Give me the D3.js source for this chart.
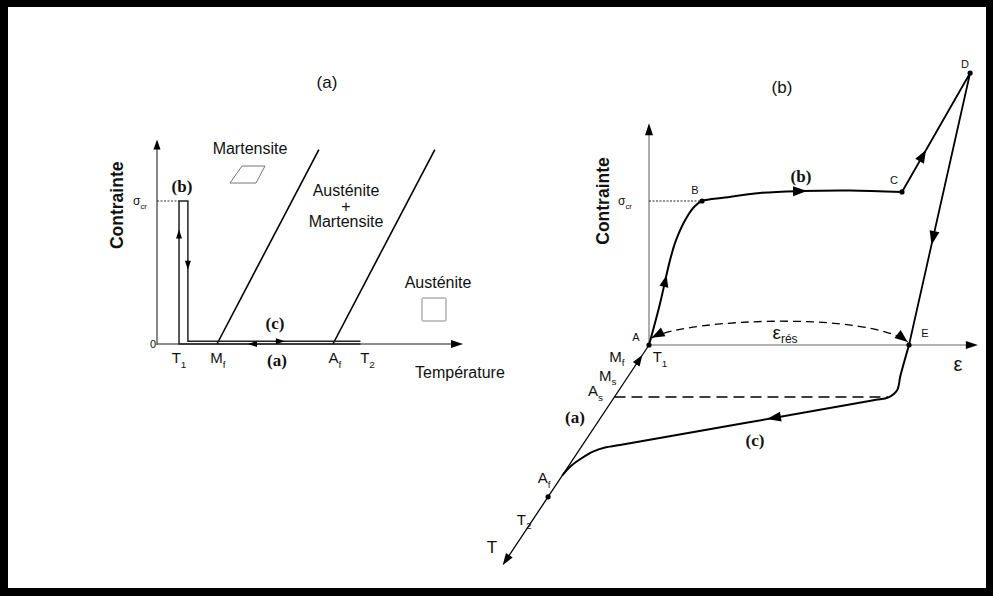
<!DOCTYPE html>
<html>
<head>
<meta charset="utf-8">
<script src="https://cdn.jsdelivr.net/npm/d3@7"></script>
<style>
  body { margin: 0; background: #fff; }
  svg { display: block; }
  text { font-family: "Liberation Sans", Arial, sans-serif; fill: #111; }
  .serif { font-family: "Liberation Serif", "Times New Roman", serif; font-weight: bold; }
</style>
</head>
<body>
<svg id="fig" width="993" height="596"></svg>
<script>
// ---------- Panel (a): stress vs temperature ----------
// temperature marks on the horizontal axis (arbitrary units)
const tempLabels = ["T|1", "M|f", "A|f", "T|2"];
const tempValues = [7.2, 19.6, 57.5, 66.5];
// phase boundaries: Mf line and Af line
const boundaryStart = [19.6, 57.5];
const boundaryEndTemp = [52.9, 90.8];
const boundaryEndStress = [1.36, 1.36];
// thermomechanical path: (a) cooling T2->T1, (b) load/unload at T1, (c) heating back to T2
const cycleTemp = [66.5, 7.2, 7.2, 10.1, 10.1, 66.5];
const cycleStress = [0, 0, 1, 1, 0.02, 0.02];

// ---------- Panel (b): stress / strain / temperature ----------
// loading branch A -> B -> C (strain in units of eps_res, stress in units of sigma_cr)
const loadStrain = [0, 0.041, 0.081, 0.104, 0.146, 0.177, 0.204, 0.292, 0.427, 0.581, 0.773, 0.973];
const loadStress = [0, 0.278, 0.590, 0.729, 0.889, 0.965, 1.000, 1.024, 1.056, 1.069, 1.073, 1.063];
// C -> D -> E (elastic loading then unloading)
const peakStrain = [0.973, 1.235, 1.0];
const peakStress = [1.063, 1.889, 0];
// heating branch (c): E -> As -> Af, at zero stress
const heatStrain = [1.0, 1.045, 1.07, 1.055, 1.0, 0.144, 0.093, 0.057, 0.031, 0.009, 0];
const heatTemp   = [0,   0.2,   0.3,  0.345, 0.365, 0.659, 0.675, 0.702, 0.744, 0.797, 0.86];
// marks on the temperature axis (T1 = 0, T2 = 1)
const tAxisLabels = ["M|f", "M|s", "A|s", "A|f", "T|2"];
const tAxisValues = [0.07, 0.2, 0.342, 0.86, 1.0];
// named points of the cycle
const pointNames  = ["A", "B", "C", "D", "E"];
const pointStrain = [0, 0.204, 0.973, 1.235, 1.0];
const pointStress = [0, 1.0, 1.063, 1.889, 0];

const svg = d3.select("#fig");

// frame
svg.append("rect").attr("width", 993).attr("height", 596).attr("fill", "#000");
svg.append("rect").attr("x", 8).attr("y", 7).attr("width", 978).attr("height", 581).attr("fill", "#fff");

// ---------- helpers ----------
function arrowHead(g, tip, dir, len, half) {
  const a = Math.atan2(dir[1], dir[0]) * 180 / Math.PI;
  g.append("path")
    .attr("d", `M0,0L${-len},${-half}L${-len},${half}Z`)
    .attr("transform", `translate(${tip[0]},${tip[1]}) rotate(${a})`)
    .attr("fill", "#000");
}
function arrowOn(g, p0, p1, f, len, half) {
  const tip = [p0[0] + f * (p1[0] - p0[0]), p0[1] + f * (p1[1] - p0[1])];
  arrowHead(g, tip, [p1[0] - p0[0], p1[1] - p0[1]], len, half);
}
function subText(g, x, cy, spec, size, opts = {}) {
  const [base, sub] = spec.split("|");
  const t = g.append("text")
    .attr("x", x).attr("y", cy + size * 0.36)
    .attr("font-size", size)
    .attr("text-anchor", opts.anchor || "middle");
  if (opts.cls) t.attr("class", opts.cls);
  t.append("tspan").text(base);
  if (sub) t.append("tspan").attr("font-size", size * 0.66).attr("dy", size * 0.28).text(sub);
  return t;
}

// =====================================================
// Panel (a)
// =====================================================
const ga = svg.append("g");
const xa = d3.scaleLinear().domain([0, 100]).range([157, 463]);
const ya = d3.scaleLinear().domain([0, 1]).range([344, 201]);
const lineA = d3.line().x(d => xa(d[0])).y(d => ya(d[1]));

ga.append("text").attr("x", 327).attr("y", 88).attr("font-size", 17).attr("text-anchor", "middle").text("(a)");

// axes
ga.append("line").attr("x1", xa(0)).attr("x2", xa(100) - 6).attr("y1", ya(0)).attr("y2", ya(0))
  .attr("stroke", "#666").attr("stroke-width", 1.4);
arrowHead(ga, [xa(100), ya(0)], [1, 0], 12, 4);
ga.append("line").attr("x1", xa(0)).attr("x2", xa(0)).attr("y1", ya(0) + 1).attr("y2", ya(1.43) + 6)
  .attr("stroke", "#555").attr("stroke-width", 1.4);
arrowHead(ga, [xa(0), ya(1.43)], [0, -1], 10, 3.5);

ga.append("text").attr("transform", `translate(123,${ya(0.97)}) rotate(-90)`)
  .attr("font-size", 17.5).attr("font-weight", "bold").attr("text-anchor", "middle").text("Contrainte");
subText(ga, 140, ya(1), "σ|cr", 12);
ga.append("text").attr("x", xa(0) - 4).attr("y", ya(0) + 4).attr("font-size", 11).attr("text-anchor", "middle").text("0");

// sigma_cr guide
ga.append("line").attr("x1", xa(0)).attr("x2", xa(cycleTemp[2])).attr("y1", ya(1)).attr("y2", ya(1))
  .attr("stroke", "#333").attr("stroke-width", 1).attr("stroke-dasharray", "2,1.5");

// phase boundaries
boundaryStart.forEach((t0, i) => {
  ga.append("path").attr("d", lineA([[t0, 0], [boundaryEndTemp[i], boundaryEndStress[i]]]))
    .attr("stroke", "#000").attr("stroke-width", 1.6).attr("fill", "none");
});

// cycle path
const cyc = cycleTemp.map((t, i) => [t, cycleStress[i]]);
ga.append("path").attr("d", lineA(cyc)).attr("fill", "none").attr("stroke", "#222").attr("stroke-width", 1.5);
const cp = cyc.map(d => [xa(d[0]), ya(d[1])]);
arrowOn(ga, cp[1], cp[2], 0.80, 9, 3);    // up at T1
arrowOn(ga, cp[3], cp[4], 0.49, 9, 3);    // unloading
arrowOn(ga, cp[0], cp[1], 0.62, 9, 3);    // cooling (a)
arrowOn(ga, cp[4], cp[5], 0.562, 9, 3);   // heating (c)

// temperature labels
const tempDx = [0, 1, 2, 7];
tempLabels.forEach((s, i) => subText(ga, xa(tempValues[i]) + tempDx[i], 358, s, 15));
ga.append("text").attr("class", "serif").attr("x", 277).attr("y", 366).attr("font-size", 17).attr("text-anchor", "middle").text("(a)");
ga.append("text").attr("class", "serif").attr("x", 275).attr("y", 329).attr("font-size", 17).attr("text-anchor", "middle").text("(c)");
ga.append("text").attr("class", "serif").attr("x", 182).attr("y", 192).attr("font-size", 17).attr("text-anchor", "middle").text("(b)");
ga.append("text").attr("x", 415).attr("y", 378).attr("font-size", 16).text("Température");

// phase regions
ga.append("text").attr("x", 250).attr("y", 154).attr("font-size", 16).attr("text-anchor", "middle").text("Martensite");
ga.append("path").attr("d", "M230,183L242,166L265,166L256,183Z").attr("fill", "none").attr("stroke", "#777").attr("stroke-width", 1);
const mix = ga.append("text").attr("y", 196).attr("font-size", 16).attr("text-anchor", "middle");
["Austénite", "+", "Martensite"].forEach((s, i) => {
  mix.append("tspan").attr("x", 346).attr("dy", i === 0 ? 0 : 15.5).text(s);
});
ga.append("text").attr("x", 438).attr("y", 288).attr("font-size", 16).attr("text-anchor", "middle").text("Austénite");
ga.append("rect").attr("x", 422).attr("y", 298).attr("width", 24).attr("height", 23).attr("rx", 1)
  .attr("fill", "none").attr("stroke", "#888").attr("stroke-width", 1);

// =====================================================
// Panel (b)
// =====================================================
const gb = svg.append("g");
const xb = d3.scaleLinear().domain([0, 1]).range([649, 909]);     // strain
const yb = d3.scaleLinear().domain([0, 1]).range([345, 201]);     // stress
const tb = d3.scaleLinear().domain([0, 1]).range([0, 182.5]);     // temperature (oblique axis)
const tDir = [-0.553, 0.832];
const proj = (e, s, t) => [xb(e) + tb(t) * tDir[0], yb(s) + tb(t) * tDir[1]];

gb.append("text").attr("x", 782).attr("y", 93).attr("font-size", 17).attr("text-anchor", "middle").text("(b)");

// stress axis
gb.append("line").attr("x1", xb(0)).attr("x2", xb(0)).attr("y1", yb(0)).attr("y2", yb(1.54) + 8)
  .attr("stroke", "#777").attr("stroke-width", 1.2);
arrowHead(gb, [xb(0), yb(1.54)], [0, -1], 12, 4);
// strain axis
gb.append("line").attr("x1", xb(0)).attr("x2", xb(1.265) - 8).attr("y1", yb(0)).attr("y2", yb(0))
  .attr("stroke", "#999").attr("stroke-width", 1.5);
arrowHead(gb, [xb(1.265), yb(0)], [1, 0], 12, 4);
// temperature axis
const tEnd = proj(0, 0, 1.45);
const tStart = proj(0, 0, 0);
gb.append("line").attr("x1", tStart[0]).attr("y1", tStart[1])
  .attr("x2", tEnd[0] - tDir[0] * 6).attr("y2", tEnd[1] - tDir[1] * 6)
  .attr("stroke", "#000").attr("stroke-width", 1.3);
arrowHead(gb, tEnd, tDir, 12, 4);
arrowOn(gb, proj(0, 0, 0.3), proj(0, 0, 0), 0.78, 11, 4);

gb.append("text").attr("transform", `translate(609,${yb(1)}) rotate(-90)`)
  .attr("font-size", 17.5).attr("font-weight", "bold").attr("text-anchor", "middle").text("Contrainte");
subText(gb, 625, yb(1), "σ|cr", 12);
gb.append("text").attr("x", 958).attr("y", 371).attr("font-size", 20).attr("text-anchor", "middle").text("ε");

// sigma_cr guide to B
gb.append("line").attr("x1", xb(0)).attr("x2", xb(pointStrain[1])).attr("y1", yb(1)).attr("y2", yb(1))
  .attr("stroke", "#222").attr("stroke-width", 1).attr("stroke-dasharray", "2,1.5");

// dashed As level
const asL = proj(0, 0, tAxisValues[2]);
const asR = proj(1.052, 0, tAxisValues[2]);
gb.append("line").attr("x1", asL[0]).attr("x2", asR[0]).attr("y1", asL[1]).attr("y2", asR[1])
  .attr("stroke", "#000").attr("stroke-width", 1.4).attr("stroke-dasharray", "11,6");

// residual strain arc
const arcPts = [[0.01, 0.05], [0.158, 0.188], [0.85, 0.229], [0.995, 0.02]].map(d => [xb(d[0]), yb(d[1])]);
gb.append("path")
  .attr("d", `M${arcPts[0]}C${arcPts[1]} ${arcPts[2]} ${arcPts[3]}`)
  .attr("fill", "none").attr("stroke", "#000").attr("stroke-width", 1.3).attr("stroke-dasharray", "8,5");
arrowHead(gb, arcPts[3], [arcPts[3][0] - arcPts[2][0], arcPts[3][1] - arcPts[2][1]], 13, 5);
arrowHead(gb, arcPts[0], [arcPts[0][0] - arcPts[1][0], arcPts[0][1] - arcPts[1][1]], 13, 5);
const er = gb.append("text").attr("x", 785).attr("y", 339).attr("font-size", 19).attr("text-anchor", "middle");
er.append("tspan").text("ε");
er.append("tspan").attr("font-size", 12).attr("dy", 4).text("rés");

// loading branch
const loadPts = loadStrain.map((e, i) => proj(e, loadStress[i], 0));
gb.append("path").attr("d", d3.line().curve(d3.curveCatmullRom.alpha(0.5))(loadPts))
  .attr("fill", "none").attr("stroke", "#000").attr("stroke-width", 2);
const peakPts = peakStrain.map((e, i) => proj(e, peakStress[i], 0));
gb.append("path").attr("d", d3.line()(peakPts))
  .attr("fill", "none").attr("stroke", "#000").attr("stroke-width", 1.8);
// heating branch
const heatPts = heatStrain.map((e, i) => proj(e, 0, heatTemp[i]));
gb.append("path").attr("d", d3.line().curve(d3.curveCatmullRom.alpha(0.5))(heatPts))
  .attr("fill", "none").attr("stroke", "#000").attr("stroke-width", 2);

// direction arrows
arrowOn(gb, loadPts[1], loadPts[2], 0.667, 12, 4.5);
arrowOn(gb, loadPts[9], loadPts[10], 0.14, 14, 5);
arrowOn(gb, peakPts[0], peakPts[1], 0.353, 13, 5);
arrowOn(gb, peakPts[1], peakPts[2], 0.632, 14, 5);
arrowOn(gb, heatPts[4], heatPts[5], 0.417, 14, 5);

// named points
const ptLabelOff = [[-13, -8], [-7, -11], [-8, -12], [-5, -9], [16, -12]];
pointNames.forEach((n, i) => {
  const p = proj(pointStrain[i], pointStress[i], 0);
  gb.append("circle").attr("cx", p[0]).attr("cy", p[1]).attr("r", 2.6).attr("fill", "#000");
  gb.append("text").attr("x", p[0] + ptLabelOff[i][0]).attr("y", p[1] + ptLabelOff[i][1] + 4)
    .attr("font-size", 11).attr("text-anchor", "middle").text(n);
});
subText(gb, 660, 357, "T|1", 15);

// temperature-axis marks
const tLabOff = [[-25, 1], [-21, 0], [-19, -6], [-18, 2.5], [-24, 23]];
tAxisLabels.forEach((s, i) => {
  const p = proj(0, 0, tAxisValues[i]);
  subText(gb, p[0] + tLabOff[i][0], p[1] + tLabOff[i][1], s, 15);
});
const t2 = proj(0, 0, tAxisValues[4]);
gb.append("circle").attr("cx", t2[0]).attr("cy", t2[1]).attr("r", 2.6).attr("fill", "#000");
gb.append("text").attr("x", 492).attr("y", 553).attr("font-size", 17).attr("text-anchor", "middle").text("T");
gb.append("text").attr("class", "serif").attr("x", 575).attr("y", 423).attr("font-size", 17).attr("text-anchor", "middle").text("(a)");
gb.append("text").attr("class", "serif").attr("x", 801).attr("y", 182).attr("font-size", 17).attr("text-anchor", "middle").text("(b)");
gb.append("text").attr("class", "serif").attr("x", 755).attr("y", 446).attr("font-size", 17).attr("text-anchor", "middle").text("(c)");
</script>
</body>
</html>
